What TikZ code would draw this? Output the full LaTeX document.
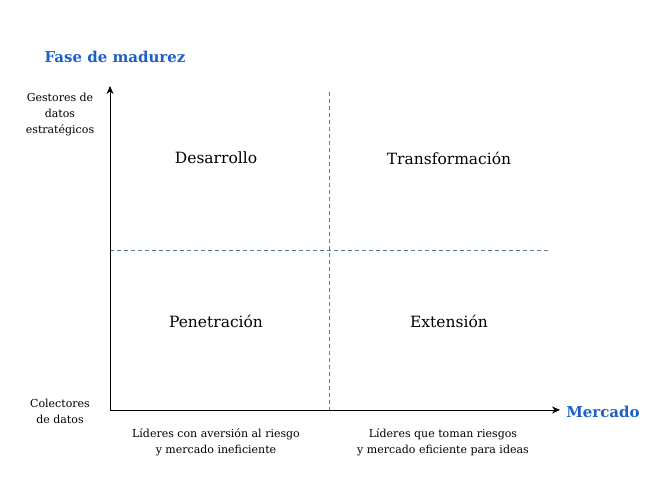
\documentclass[tikz,border=0pt]{standalone}
\usepackage{fontspec}
\setmainfont{DejaVu Serif}
\usetikzlibrary{arrows.meta}
\definecolor{tblue}{HTML}{1F5FC8}
\definecolor{dgray}{HTML}{5A7A99}
\begin{document}
\begin{tikzpicture}[x=1pt,y=-1pt,
  axis/.style={line width=1pt,-{Stealth[length=8pt,width=7pt]}},
  dline/.style={dgray,dash pattern=on 4pt off 3pt,line width=0.8pt},
  quad/.style={font=\fontsize{15.5}{18}\selectfont},
  small/.style={font=\fontsize{11}{16}\selectfont,align=center},
  ttl/.style={font=\bfseries\fontsize{15}{17}\selectfont,text=tblue}]
\useasboundingbox (0,0) rectangle (650,500);
\coordinate (o) at (110,410);
\coordinate (ytop) at (110,86);
\coordinate (xend) at (560,410);
\coordinate (v1) at (329,92); \coordinate (v2) at (329,410);
\coordinate (h1) at (110,250); \coordinate (h2) at (550,250);
\draw[dline] (v1) -- (v2);
\draw[dline] (h1) -- (h2);
\draw[axis] (o) -- (ytop);
\draw[axis] (o) -- (xend);
\node[ttl] (t1) at (115,57) {Fase de madurez};
\node[ttl] (t2) at (603,412) {Mercado};
\node[small] (g) at (60,115) {Gestores de\\datos\\estratégicos};
\node[small] (c) at (60,411) {Colectores\\de datos};
\node[quad] (q1) at (216,158) {Desarrollo};
\node[quad] (q2) at (449,158) {Transformación};
\node[quad] (q3) at (216,321) {Penetración};
\node[quad] (q4) at (449,321) {Extensión};
\node[small] (b1) at (216,442) {Líderes con aversión al riesgo\\y mercado ineficiente};
\node[small] (b2) at (443,442) {Líderes que toman riesgos\\y mercado eficiente para ideas};
\end{tikzpicture}
\end{document}
